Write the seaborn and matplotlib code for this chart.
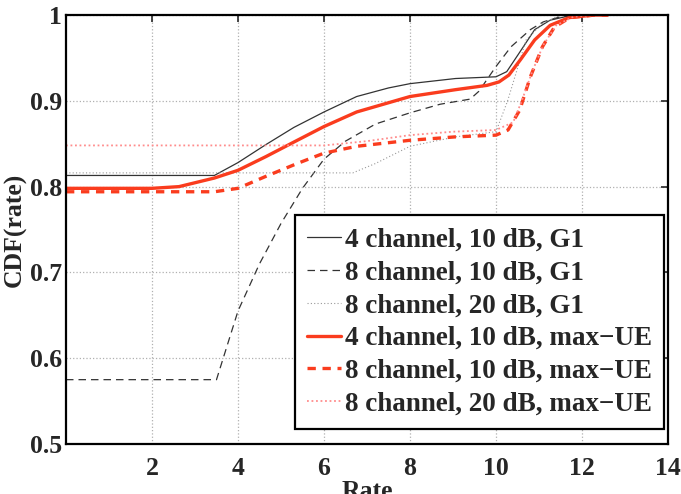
import matplotlib
matplotlib.use("Agg")
import matplotlib.pyplot as plt
import seaborn as sns

# curves (Rate, CDF)
g1_4ch_10db_x = [0, 3.45, 4.0, 4.65, 5.3, 6.0, 6.76, 7.5, 8.0, 9.06, 10.0, 10.25, 10.53, 10.9, 11.26, 11.7, 12.2, 12.5]
g1_4ch_10db_y = [0.813, 0.813, 0.828, 0.849, 0.869, 0.887, 0.905, 0.915, 0.920, 0.926, 0.928, 0.934, 0.955, 0.983, 0.994, 0.999, 1.0, 1.0]

g1_8ch_10db_x = [0, 3.5, 4.0, 4.5, 5.0, 5.5, 6.0, 6.5, 7.2, 8.0, 8.7, 9.4, 9.6, 10.0, 10.35, 10.8, 11.1, 11.5, 12.0, 12.5]
g1_8ch_10db_y = [0.575, 0.575, 0.655, 0.71, 0.757, 0.798, 0.832, 0.853, 0.873, 0.886, 0.896, 0.902, 0.911, 0.94, 0.963, 0.983, 0.992, 0.998, 1.0, 1.0]

g1_8ch_20db_x = [0, 6.67, 7.2, 8.0, 9.06, 10.0, 10.27, 10.44, 10.7, 11.08, 11.5, 12.5]
g1_8ch_20db_y = [0.816, 0.816, 0.827, 0.847, 0.858, 0.864, 0.90, 0.928, 0.971, 0.99, 1.0, 1.0]

ue_4ch_10db_x = [0, 2.0, 2.63, 3.45, 4.0, 4.65, 5.38, 6.0, 6.76, 8.0, 9.06, 9.79, 10.07, 10.3, 10.57, 10.9, 11.26, 11.7, 12.28, 12.6]
ue_4ch_10db_y = [0.798, 0.798, 0.800, 0.810, 0.819, 0.835, 0.854, 0.870, 0.887, 0.905, 0.913, 0.918, 0.922, 0.930, 0.948, 0.971, 0.988, 0.997, 1.0, 1.0]

ue_8ch_10db_x = [0, 3.45, 4.0, 4.65, 5.38, 6.0, 6.76, 8.0, 9.06, 10.0, 10.28, 10.55, 10.8, 11.08, 11.36, 11.72, 12.3, 12.6]
ue_8ch_10db_y = [0.794, 0.794, 0.798, 0.812, 0.827, 0.839, 0.847, 0.854, 0.858, 0.860, 0.866, 0.889, 0.928, 0.963, 0.986, 0.997, 1.0, 1.0]

ue_8ch_20db_x = [0, 6.0, 7.0, 8.0, 9.0, 10.0, 10.4, 10.6, 10.85, 11.1, 11.4, 11.8, 12.3, 12.6]
ue_8ch_20db_y = [0.848, 0.848, 0.853, 0.860, 0.864, 0.866, 0.875, 0.90, 0.935, 0.965, 0.988, 0.998, 1.0, 1.0]

labels = ["4 channel, 10 dB, G1", "8 channel, 10 dB, G1", "8 channel, 20 dB, G1",
          "4 channel, 10 dB, max\u2212UE", "8 channel, 10 dB, max\u2212UE", "8 channel, 20 dB, max\u2212UE"]

sns.set_style("white")
plt.rcParams['font.family'] = ['Liberation Serif', 'DejaVu Serif']
plt.rcParams['font.weight'] = 'bold'
plt.rcParams['axes.labelweight'] = 'bold'

red = '#fa3c1e'

fig = plt.figure(figsize=(6.81, 4.94), dpi=100)
ax = fig.add_axes([0.0969, 0.1012, 0.884, 0.8684])

sns.lineplot(x=g1_4ch_10db_x, y=g1_4ch_10db_y, ax=ax, color='#333333', lw=0.9, label=labels[0])
sns.lineplot(x=g1_8ch_10db_x, y=g1_8ch_10db_y, ax=ax, color='#333333', lw=0.9, dashes=(6, 4), label=labels[1])
sns.lineplot(x=g1_8ch_20db_x, y=g1_8ch_20db_y, ax=ax, color='#999999', lw=0.8, dashes=(1, 2), label=labels[2])
sns.lineplot(x=ue_4ch_10db_x, y=ue_4ch_10db_y, ax=ax, color=red, lw=2.4, label=labels[3])
sns.lineplot(x=ue_8ch_10db_x, y=ue_8ch_10db_y, ax=ax, color=red, lw=2.4, dashes=(2.5, 2), label=labels[4])
sns.lineplot(x=ue_8ch_20db_x, y=ue_8ch_20db_y, ax=ax, color='#ff8c8c', lw=1.3, dashes=(1, 1.5), label=labels[5])

ax.set_xlim(0, 14)
ax.set_ylim(0.5, 1)
ax.set_xticks([2, 4, 6, 8, 10, 12, 14])
ax.set_yticks([0.5, 0.6, 0.7, 0.8, 0.9, 1.0])
ax.set_yticklabels(['0.5', '0.6', '0.7', '0.8', '0.9', '1'])
ax.grid(True, linestyle=':', color='#b0b0b0', lw=0.9)
ax.tick_params(direction='in', top=True, right=True, length=5, width=1.2, labelsize=18.5)
ax.tick_params(axis='x', pad=9)
ax.tick_params(axis='y', pad=3)
for s in ax.spines.values():
    s.set_linewidth(1.6)
    s.set_color('black')

ax.set_xlabel('Rate', fontsize=18.5, labelpad=0)
ax.set_ylabel('CDF(rate)', fontsize=18.5, labelpad=2)

leg = ax.legend(loc='lower right', bbox_to_anchor=(0.9934, 0.035), fontsize=19.5,
                frameon=True, fancybox=False, handlelength=1.25, handletextpad=0.15,
                labelspacing=0.29, borderaxespad=0, borderpad=0.45)
leg.get_frame().set_edgecolor('black')
leg.get_frame().set_linewidth(1.6)
leg.get_frame().set_alpha(1)

fig.savefig('out.png', dpi=100)
